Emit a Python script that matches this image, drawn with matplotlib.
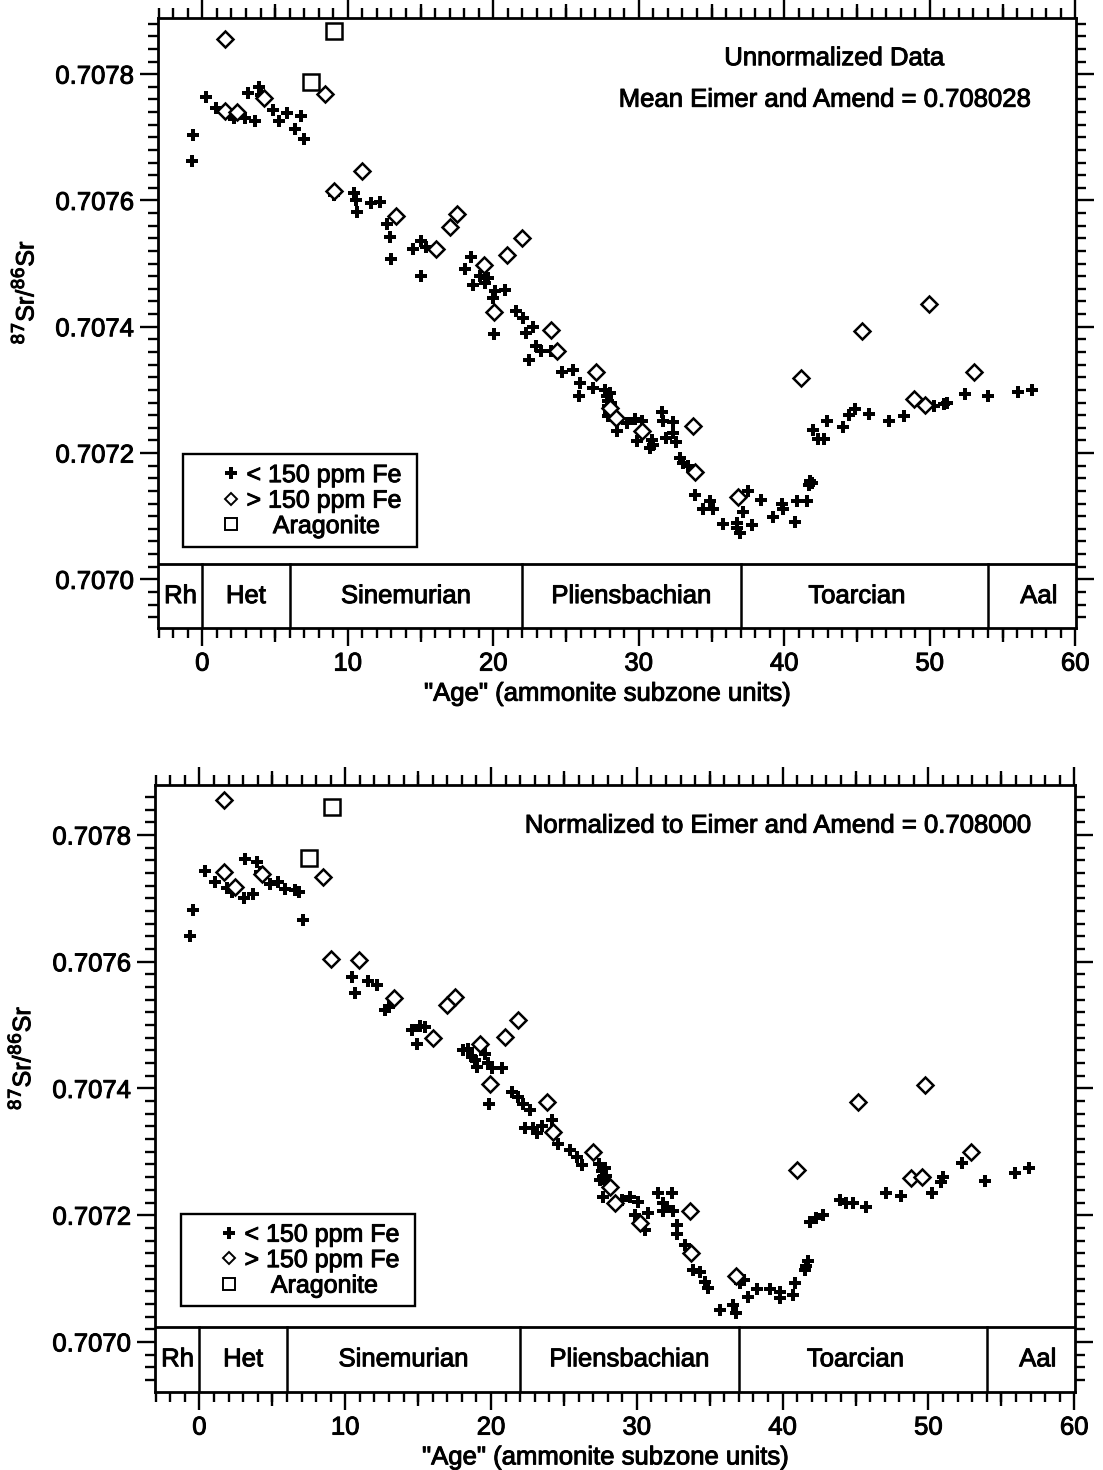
import matplotlib
matplotlib.use("Agg")
import matplotlib.pyplot as plt
from matplotlib.lines import Line2D
from matplotlib.legend_handler import HandlerLine2D
from matplotlib.ticker import MultipleLocator, FixedLocator, FuncFormatter
import matplotlib.patheffects as pe

plt.rcParams['font.family'] = ['Liberation Sans', 'DejaVu Sans']

# ---------------- data: top panel (unnormalized) ----------------
top_lt_x = [-0.74, -0.62, 0.25, 0.94, 1.9, 2.2, 2.96, 3.62, 3.12, 3.88, 4.04, 4.84, 5.3, 5.83, 6.81, 6.38, 7.02,
            9.02, 10.44, 10.53, 10.65, 11.59, 12.18, 12.71, 12.92, 12.94, 14.48, 15.05, 15.4, 15.05,
            18.49, 18.03, 19.06, 18.6, 19.64, 19.4, 20.1, 20.78, 19.98, 20.03,
            21.54, 22.05, 22.73, 22.28, 22.96, 23.31, 22.46, 24.0,
            24.69, 25.49, 25.95, 25.9, 26.86,
            27.7, 27.8, 27.9, 28.0, 27.85, 28.1, 27.95,
            27.9, 28.47, 29.16, 29.73, 30.19, 29.89, 31.0, 30.76, 30.9,
            31.57, 31.68, 32.37, 32.37, 31.9, 32.55,
            32.83, 33.06, 33.4,
            33.86, 34.9, 34.43, 35.12,
            35.81, 36.73, 36.73, 36.96, 37.76,
            37.19, 37.53, 38.4,
            39.25, 39.83, 39.94, 40.86, 41.55, 40.74,
            41.7, 41.8, 41.9,
            41.96, 42.97, 42.35, 42.7,
            44.02, 44.48, 44.87, 45.81, 47.17, 48.2,
            50.31, 50.95, 51.18, 52.4, 53.98, 56.04, 57.03]
top_lt_y = [0.707663, 0.707703, 0.707764, 0.707747, 0.707736, 0.707731, 0.707730, 0.707726, 0.707770, 0.707780,
            0.707767, 0.707744, 0.707726, 0.707739, 0.707734, 0.707713, 0.707698,
            0.707609, 0.707612, 0.707601, 0.707581, 0.707596, 0.707598, 0.707563, 0.707542, 0.707508, 0.707523,
            0.707535, 0.707526, 0.707480,
            0.707510, 0.707492, 0.707480, 0.707466, 0.707477, 0.707469, 0.707456, 0.707458, 0.707445, 0.707389,
            0.707425, 0.707414, 0.707400, 0.707390, 0.707369, 0.707361, 0.707348, 0.707361,
            0.707329, 0.707332, 0.707311, 0.707291, 0.707303,
            0.707300, 0.707290, 0.707283, 0.707295, 0.707275, 0.707280, 0.707265,
            0.707258, 0.707235, 0.707248, 0.707254, 0.707250, 0.707219, 0.707213, 0.707208, 0.707220,
            0.707265, 0.707250, 0.707249, 0.707232, 0.707224, 0.707217,
            0.707192, 0.707184, 0.707179,
            0.707134, 0.707124, 0.707111, 0.707112,
            0.707087, 0.707090, 0.707082, 0.707074, 0.707086,
            0.707107, 0.707140, 0.707125,
            0.707098, 0.707119, 0.707111, 0.707124, 0.707124, 0.707091,
            0.707150, 0.707156, 0.707152,
            0.707237, 0.707250, 0.707222, 0.707222,
            0.707241, 0.707261, 0.707269, 0.707262, 0.707250, 0.707259,
            0.707275, 0.707277, 0.707279, 0.707294, 0.707290, 0.707296, 0.707300]

top_gt_x = [1.54, 1.58, 2.36, 4.27, 8.40, 9.02, 10.97, 13.33, 16.08, 17.0, 17.53, 19.36, 20.03, 20.97, 21.98,
            23.95, 24.41, 27.09, 28.0, 28.4, 30.2, 33.74, 33.86, 36.84, 41.13, 45.33, 49.92, 48.95, 49.64, 53.06]
top_gt_y = [0.707856, 0.707742, 0.707740, 0.707762, 0.707769, 0.707615, 0.707647, 0.707575, 0.707523, 0.707558,
            0.707578, 0.707497, 0.707423, 0.707513, 0.707540, 0.707395, 0.707361, 0.707328, 0.707272, 0.707255,
            0.707235, 0.707243, 0.707170, 0.707130, 0.707319, 0.707394, 0.707436, 0.707285, 0.707276, 0.707328]

top_ar_x = [7.48, 9.02]
top_ar_y = [0.707787, 0.707868]

# ---------------- data: bottom panel (normalized) ----------------
bot_lt_x = [-0.66, -0.46, 0.36, 1.05, 1.9, 2.24, 3.04, 3.68, 3.15, 3.95, 4.18, 4.86, 5.39, 5.89, 6.53, 6.85, 7.08,
            9.02, 10.46, 10.64, 11.53, 12.17, 12.74, 12.97, 14.57, 15.14, 15.48, 14.91,
            18.1, 18.45, 18.68, 19.02, 19.59, 19.82, 20.05, 20.73, 18.9, 19.93, 19.88,
            21.42, 21.87, 22.21, 22.67, 22.33, 22.9, 23.13, 23.47, 24.16,
            24.61, 25.41, 25.87, 26.21,
            27.4, 27.6, 27.8, 27.7, 27.9, 28.0, 27.5,
            27.7, 28.95, 29.52, 30.09, 29.86, 30.77, 30.55,
            31.46, 32.38, 31.8, 32.1, 32.5, 31.8,
            32.72, 32.72, 33.29,
            33.86, 34.32, 34.88, 34.7,
            35.68, 36.6, 36.78, 37.33, 37.05, 37.62, 38.24,
            39.11, 39.79, 39.79, 40.7, 40.82,
            41.5, 41.73, 41.6,
            41.85, 42.3, 42.76,
            43.9, 44.36, 44.8, 45.73,
            47.1, 48.13, 50.25, 50.87, 51.03, 52.28, 53.88, 55.94, 56.87]
bot_lt_y = [0.707641, 0.707681, 0.707743, 0.707726, 0.707717, 0.707710, 0.707700, 0.707707, 0.707762, 0.707758,
            0.707742, 0.707723, 0.707726, 0.707715, 0.707713, 0.707710, 0.707666,
            0.707604, 0.707576, 0.707550, 0.707570, 0.707563, 0.707524, 0.707529, 0.707492, 0.707498, 0.707497,
            0.707470,
            0.707460, 0.707463, 0.707450, 0.707434, 0.707455, 0.707440, 0.707432, 0.707432, 0.707445, 0.707407,
            0.707375,
            0.707395, 0.707387, 0.707376, 0.707366, 0.707337, 0.707337, 0.707329, 0.707340, 0.707350,
            0.707313, 0.707303, 0.707292, 0.707279,
            0.707280, 0.707270, 0.707275, 0.707260, 0.707262, 0.707250, 0.707255,
            0.707229, 0.707224, 0.707229, 0.707221, 0.707200, 0.707203, 0.707177,
            0.707235, 0.707235, 0.707219, 0.707213, 0.707206, 0.707206,
            0.707185, 0.707171, 0.707153,
            0.707114, 0.707111, 0.707085, 0.707095,
            0.707050, 0.707058, 0.707045, 0.707098, 0.707093, 0.707071, 0.707083,
            0.707083, 0.707079, 0.707069, 0.707074, 0.707093,
            0.707114, 0.707127, 0.707120,
            0.707190, 0.707195, 0.707200,
            0.707224, 0.707220, 0.707220, 0.707213,
            0.707235, 0.707231, 0.707235, 0.707253, 0.707261, 0.707282, 0.707254, 0.707266, 0.707274]

bot_gt_x = [1.67, 1.67, 2.47, 4.29, 8.45, 9.02, 10.96, 13.31, 16.05, 16.97, 17.53, 19.25, 19.93, 20.96, 21.87,
            23.86, 24.27, 27.0, 28.15, 28.5, 30.2, 33.63, 33.74, 36.78, 41.0, 45.16, 49.79, 48.81, 49.57, 52.92]
bot_gt_y = [0.707855, 0.707741, 0.707718, 0.707738, 0.707734, 0.707604, 0.707603, 0.707542, 0.707479, 0.707532,
            0.707544, 0.707470, 0.707407, 0.707481, 0.707508, 0.707379, 0.707332, 0.707300, 0.707245, 0.707219,
            0.707187, 0.707207, 0.707140, 0.707104, 0.707272, 0.707379, 0.707406, 0.707259, 0.707261, 0.707300]

bot_ar_x = [7.49, 9.09]
bot_ar_y = [0.707763, 0.707844]

# ---------------- stages ----------------
stage_names = ["Rh", "Het", "Sinemurian", "Pliensbachian", "Toarcian", "Aal"]
stage_bounds = [-3, 0, 6, 22, 37, 54, 60]
stage_label_x = [-1.5, 3.0, 14.0, 29.5, 45.0, 57.5]

x_ticks = [0, 10, 20, 30, 40, 50, 60]
y_ticks = [0.7070, 0.7072, 0.7074, 0.7076, 0.7078]
legend_labels = ["< 150 ppm Fe ", "> 150 ppm Fe ", "    Aragonite"]

FS = 18.5
LFS = 18
LW = 2.0
EFF = [pe.withStroke(linewidth=0.7, foreground='black')]

fig = plt.figure(figsize=(11.03, 14.70), dpi=100)


class RightMarker(HandlerLine2D):
    """Single legend marker placed near the right end of the handle box."""
    def get_xdata(self, legend, xdescent, ydescent, width, height, fontsize):
        xdata = [-xdescent + 0.72 * width, -xdescent + width]
        return xdata, [-xdescent + 0.86 * width]


def make_panel(rect, ylim, lt, gt, ar, notes, leg_anchor):
    ax = fig.add_axes(rect)
    ax.set_xlim(-3.05, 60.05)
    ax.set_ylim(*ylim)
    band_top = 0.707024
    ax.axhline(band_top, color='black', lw=LW)
    for b in stage_bounds[1:-1]:
        ax.plot([b, b], [ylim[0], band_top], color='black', lw=1.8)
    for name, xc in zip(stage_names, stage_label_x):
        ax.text(xc, (ylim[0] + band_top) / 2, name, ha='center', va='center', fontsize=FS, path_effects=EFF)

    ax.plot(lt[0], lt[1], linestyle='none', marker='P', ms=9, color='black', mew=0)
    ax.plot(gt[0], gt[1], linestyle='none', marker='D', ms=8, mfc='white', mec='black', mew=1.8)
    ax.plot(ar[0], ar[1], linestyle='none', marker='s', ms=11, mfc='white', mec='black', mew=1.8)

    for s in ax.spines.values():
        s.set_linewidth(LW)
    ax.xaxis.set_major_locator(FixedLocator(x_ticks))
    ax.xaxis.set_minor_locator(MultipleLocator(1))
    ax.yaxis.set_major_locator(FixedLocator(y_ticks))
    ax.yaxis.set_minor_locator(MultipleLocator(0.00002))
    ax.yaxis.set_major_formatter(FuncFormatter(lambda v, p: f"{v:.4f}"))
    ax.tick_params(which='both', direction='out', top=True, right=True, width=1.7, labelsize=FS)
    ax.tick_params(which='major', length=13, pad=4)
    ax.tick_params(which='minor', length=7)
    for side in ('bottom', 'top'):
        sec = ax.secondary_xaxis(side)
        sec.set_xticks([5, 15, 25, 35, 45, 55])
        sec.tick_params(length=10, width=1.7, labelbottom=False, labeltop=False, direction='out')
        for sp in sec.spines.values():
            sp.set_visible(False)

    ax.set_xlabel('"Age" (ammonite subzone units)', fontsize=FS, path_effects=EFF)
    ax.xaxis.set_label_coords(0.49, -0.088)
    ax.set_ylabel('$^{87}$Sr/$^{86}$Sr', fontsize=18, path_effects=EFF)
    ax.yaxis.set_label_coords(-0.13, 0.55)

    for (tx, ty, t) in notes:
        ax.text(tx, ty, t, transform=ax.transAxes, ha='center', va='center', fontsize=FS, path_effects=EFF)

    handles = [Line2D([], [], linestyle='none', marker='P', ms=8, color='black', mew=0),
               Line2D([], [], linestyle='none', marker='D', ms=6, mfc='white', mec='black', mew=1.4),
               Line2D([], [], linestyle='none', marker='s', ms=9, mfc='white', mec='black', mew=1.4)]
    leg = ax.legend(handles, legend_labels, loc='lower left', bbox_to_anchor=leg_anchor,
                    fancybox=False, edgecolor='black', framealpha=1, fontsize=LFS, numpoints=1,
                    handler_map={Line2D: RightMarker()},
                    handlelength=1.85, handletextpad=0.35, borderpad=0.35, labelspacing=0.06,
                    borderaxespad=0)
    leg.get_frame().set_linewidth(1.7)
    for t in leg.get_texts():
        t.set_path_effects(EFF)
    for t in ax.get_xticklabels() + ax.get_yticklabels():
        t.set_path_effects(EFF)
    return ax


make_panel([0.1432, 0.5728, 0.8323, 0.4150], (0.706923, 0.707889),
           (top_lt_x, top_lt_y), (top_gt_x, top_gt_y), (top_ar_x, top_ar_y),
           [(0.737, 0.934, "Unnormalized Data"),
            (0.727, 0.866, "Mean Eimer and Amend = 0.708028")],
           (0.027, 0.133))

make_panel([0.1405, 0.0531, 0.8341, 0.4129], (0.706921, 0.707879),
           (bot_lt_x, bot_lt_y), (bot_gt_x, bot_gt_y), (bot_ar_x, bot_ar_y),
           [(0.678, 0.933, "Normalized to Eimer and Amend = 0.708000")],
           (0.028, 0.141))

fig.savefig("out.png", dpi=100)
